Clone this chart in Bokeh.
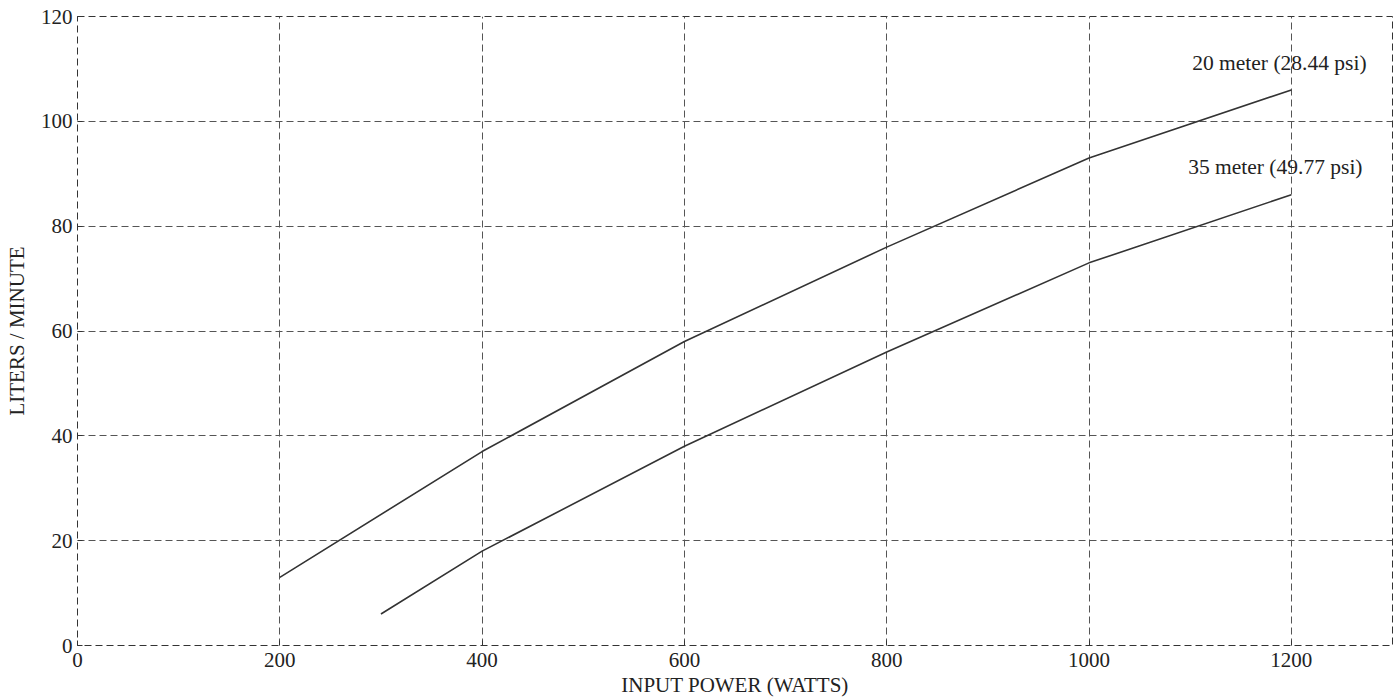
from bokeh.plotting import figure
from bokeh.models import Range1d, FixedTicker, Label
from bokeh.embed import file_html
from bokeh.resources import INLINE

power_20m = [200, 400, 600, 800, 1000, 1200]
flow_20m = [13, 37, 58, 76, 93, 106]
power_35m = [300, 400, 600, 800, 1000, 1200]
flow_35m = [6, 18, 38, 56, 73, 86]
x_ticks = [0, 200, 400, 600, 800, 1000, 1200]
y_ticks = [0, 20, 40, 60, 80, 100, 120]
label_20m = "20 meter (28.44 psi)"
label_35m = "35 meter (49.77 psi)"

FONT = "Liberation Serif"

p = figure(width=1396, height=700, output_backend="svg", toolbar_location=None,
           x_range=Range1d(0, 1300), y_range=Range1d(0, 120),
           min_border_left=77, min_border_right=4, min_border_top=16, min_border_bottom=55)
p.background_fill_color = "white"
p.border_fill_color = "white"
p.outline_line_color = "#333333"
p.outline_line_dash = "7 4"
p.outline_line_width = 1

for ax in (p.xaxis, p.yaxis):
    ax.axis_line_color = None
    ax.major_tick_in = 5
    ax.major_tick_out = 0
    ax.major_tick_line_color = "#333333"
    ax.minor_tick_line_color = None
    ax.major_label_text_font = FONT
    ax.major_label_text_font_size = "21px"
    ax.major_label_text_color = "#222222"
    ax.axis_label_text_font = FONT
    ax.axis_label_text_font_size = "21px"
    ax.axis_label_text_font_style = "normal"
    ax.axis_label_text_color = "#222222"

p.xaxis.ticker = FixedTicker(ticks=x_ticks)
p.yaxis.ticker = FixedTicker(ticks=y_ticks)
p.xaxis.axis_label = "INPUT POWER (WATTS)"
p.yaxis.axis_label = "LITERS / MINUTE"
p.xaxis.major_label_standoff = 7
p.yaxis.major_label_standoff = 5
p.xaxis.axis_label_standoff = 3
p.yaxis.axis_label_standoff = 9

p.xgrid.grid_line_color = "#555555"
p.ygrid.grid_line_color = "#555555"
p.xgrid.grid_line_dash = "7 4"
p.ygrid.grid_line_dash = "7 4"

p.line(power_20m, flow_20m, line_color="#333333", line_width=1.6)
p.line(power_35m, flow_35m, line_color="#333333", line_width=1.6)

p.add_layout(Label(x=1102, y=111.2, text=label_20m, text_font=FONT, text_font_size="21.5px",
                   text_baseline="middle", text_align="left", text_color="#222222"))
p.add_layout(Label(x=1098, y=91.2, text=label_35m, text_font=FONT, text_font_size="21.5px",
                   text_baseline="middle", text_align="left", text_color="#222222"))

open("out.html", "w").write(file_html(p, INLINE))
